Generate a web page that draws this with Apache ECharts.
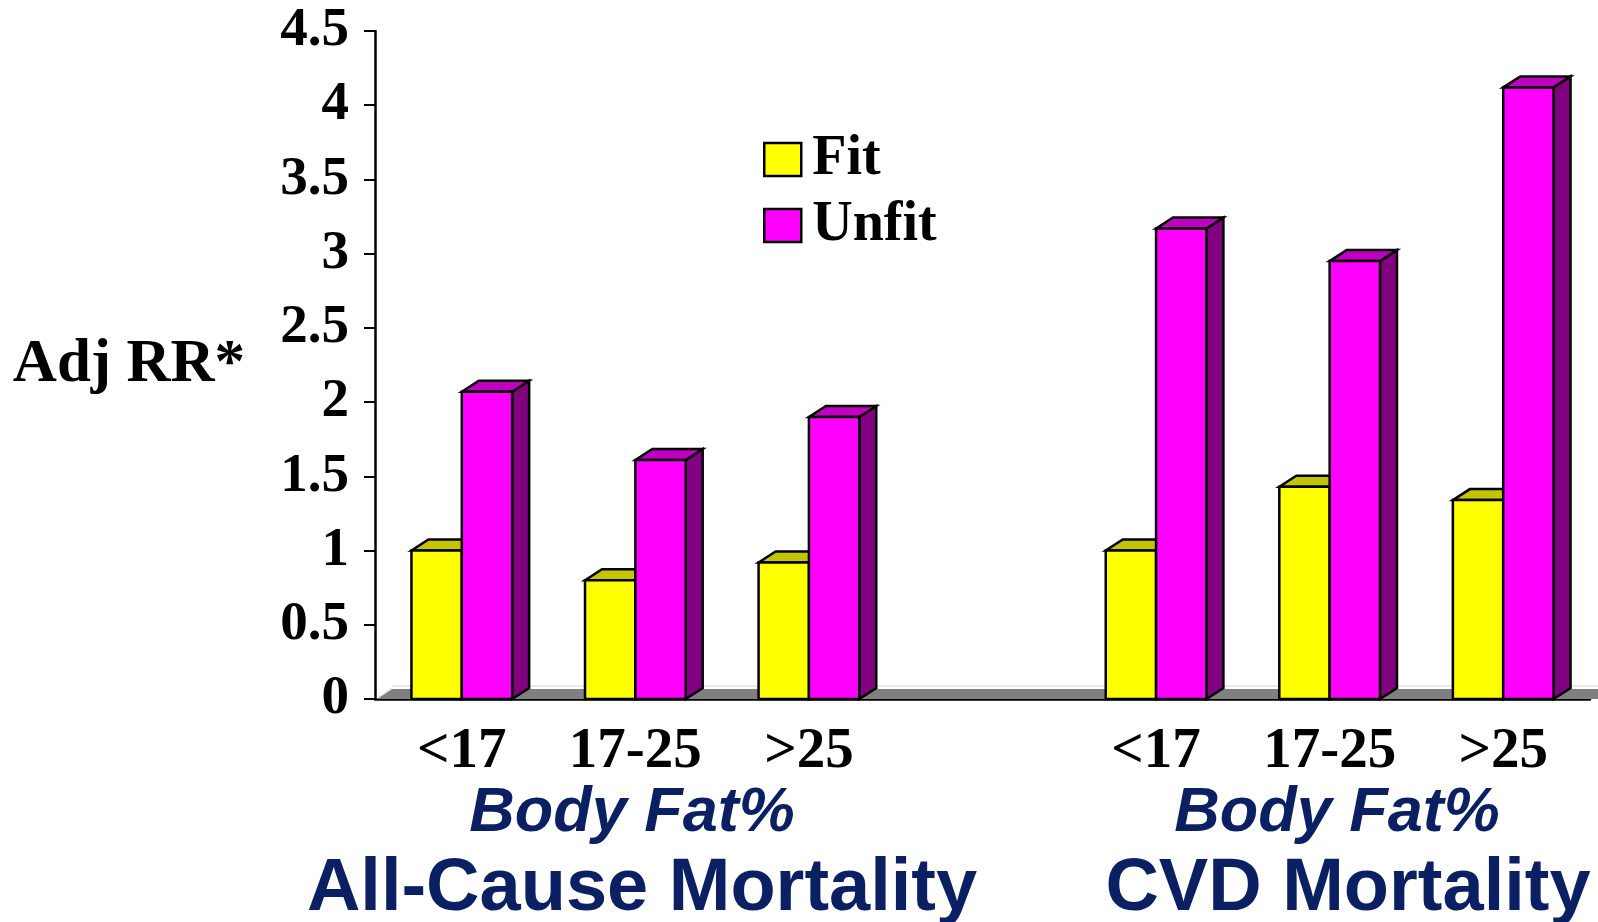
<!DOCTYPE html>
<html>
<head>
<meta charset="utf-8">
<script src="https://cdn.jsdelivr.net/npm/echarts@6/dist/echarts.min.js"></script>
<style>
  html, body { margin: 0; padding: 0; background: #ffffff; }
  #chart { width: 1598px; height: 922px; }
</style>
</head>
<body>
<div id="chart"></div>
<script>
// Adjusted relative risk by body-fat group, fit vs unfit men
const categories = ['<17', '17-25', '>25', '', '<17', '17-25', '>25'];
const fitValues = [1.0, 0.8, 0.92, null, 1.0, 1.43, 1.34];
const unfitValues = [2.07, 1.61, 1.9, null, 3.17, 2.95, 4.12];
const seriesNames = ['Fit', 'Unfit'];
const yMin = 0, yMax = 4.5, yStep = 0.5;
const yAxisTitle = 'Adj RR*';
const groupSubtitle = 'Body Fat%';
const groupTitles = ['All-Cause Mortality', 'CVD Mortality'];

const SERIF = '"Liberation Serif", "Times New Roman", serif';
const SANS = '"Liberation Sans", Arial, sans-serif';
const NAVY = '#0b1f63';
const DX = 17, DY = 11;          // depth offset of the 3-D columns
const BAR_FRAC = 0.29;           // column width as a share of a category

const palette = [
  { front: '#ffff00', top: '#c4c400', side: '#808000' },
  { front: '#ff00ff', top: '#c000c0', side: '#800080' }
];

function toData(values) {
  const out = [];
  values.forEach((v, i) => { if (v !== null) out.push([i, v]); });
  return out;
}

function bar3d(idx) {
  const col = palette[idx];
  return function (params, api) {
    const i = api.value(0), v = api.value(1);
    const c = api.coord([i, v]);
    const b = api.coord([i, 0]);
    const W = api.size([1, 0])[0];
    const bw = W * BAR_FRAC;
    const x = idx === 0 ? c[0] - bw : c[0];
    const yT = c[1], yB = b[1];
    const line = { stroke: '#000', lineWidth: 2.5, lineJoin: 'miter' };
    return {
      type: 'group',
      children: [
        { type: 'polygon',
          shape: { points: [[x + bw, yT], [x + bw + DX, yT - DY], [x + bw + DX, yB - DY], [x + bw, yB]] },
          style: Object.assign({ fill: col.side }, line) },
        { type: 'polygon',
          shape: { points: [[x, yT], [x + DX, yT - DY], [x + bw + DX, yT - DY], [x + bw, yT]] },
          style: Object.assign({ fill: col.top }, line) },
        { type: 'rect',
          shape: { x: x, y: yT, width: bw, height: yB - yT },
          style: Object.assign({ fill: col.front }, line) }
      ]
    };
  };
}

// grey floor under the columns
function floor(params, api) {
  const cs = params.coordSys;
  const x0 = cs.x, x1 = cs.x + cs.width, y0 = cs.y + cs.height;
  const fx = DX - 2, fy = DY - 1;
  return {
    type: 'group',
    children: [
      { type: 'polygon',
        shape: { points: [[x0 + 2, y0], [x0 + 2 + fx, y0 - fy], [x1 + fx + 20, y0 - fy], [x1 + 20, y0]] },
        style: { fill: '#808080' } },
      { type: 'line',
        shape: { x1: x0 + 2 + fx, y1: y0 - fy - 3, x2: x1 + fx + 20, y2: y0 - fy - 3 },
        style: { stroke: '#e4e4e4', lineWidth: 1.5 } },
      { type: 'line',
        shape: { x1: x0 + 2, y1: y0 - 1, x2: x0 + 2 + fx, y2: y0 - fy - 1 },
        style: { stroke: '#e8e8e8', lineWidth: 1.5 } }
    ]
  };
}

const chart = echarts.init(document.getElementById('chart'), null, { renderer: 'canvas' });

chart.setOption({
  backgroundColor: '#ffffff',
  animation: false,
  grid: { left: 375, right: 8, top: 31, bottom: 223, containLabel: false },
  legend: {
    orient: 'vertical',
    left: 758, top: 126,
    itemWidth: 37, itemHeight: 33, itemGap: 9,
    icon: 'rect',
    selectedMode: false,
    textStyle: { fontFamily: SERIF, fontWeight: 'bold', fontSize: 56, lineHeight: 57, color: '#000', padding: [0, 0, 0, 6] },
    data: [
      { name: seriesNames[0], itemStyle: { color: palette[0].front, borderColor: '#000', borderWidth: 2.5 } },
      { name: seriesNames[1], itemStyle: { color: palette[1].front, borderColor: '#000', borderWidth: 2.5 } }
    ]
  },
  xAxis: {
    type: 'category',
    data: categories,
    boundaryGap: true,
    axisLine: { lineStyle: { color: '#000', width: 2.5 } },
    axisTick: { length: 11, lineStyle: { color: '#000', width: 2 } },
    axisLabel: { margin: 25, color: '#000', fontFamily: SERIF, fontWeight: 'bold', fontSize: 57, interval: 0 },
    splitLine: { show: false }
  },
  yAxis: {
    type: 'value',
    min: yMin, max: yMax, interval: yStep,
    name: yAxisTitle,
    nameLocation: 'middle',
    nameRotate: 0,
    nameGap: 130,
    nameTextStyle: { color: '#000', fontFamily: SERIF, fontWeight: 'bold', fontSize: 61 },
    axisLine: { show: true, lineStyle: { color: '#000', width: 2.5 } },
    axisTick: { show: true, length: 11, lineStyle: { color: '#000', width: 2 } },
    axisLabel: { margin: 26, color: '#000', fontFamily: SERIF, fontWeight: 'bold', fontSize: 55 },
    splitLine: { show: false }
  },
  series: [
    { type: 'custom', name: 'floor', data: [[0, 0]], renderItem: floor, z: 1, silent: true },
    { type: 'custom', name: seriesNames[0], data: toData(fitValues), encode: { x: 0, y: 1 },
      renderItem: bar3d(0), z: 2, itemStyle: { color: palette[0].front } },
    { type: 'custom', name: seriesNames[1], data: toData(unfitValues), encode: { x: 0, y: 1 },
      renderItem: bar3d(1), z: 3, itemStyle: { color: palette[1].front } }
  ],
  graphic: [
    { type: 'text', x: 632, y: 814, style: { text: groupSubtitle, align: 'center', verticalAlign: 'middle',
      font: 'italic bold 63px ' + SANS, fill: NAVY } },
    { type: 'text', x: 1337, y: 814, style: { text: groupSubtitle, align: 'center', verticalAlign: 'middle',
      font: 'italic bold 63px ' + SANS, fill: NAVY } },
    { type: 'text', x: 642, y: 890, style: { text: groupTitles[0], align: 'center', verticalAlign: 'middle',
      font: 'bold 74px ' + SANS, fill: NAVY } },
    { type: 'text', x: 1348, y: 890, style: { text: groupTitles[1], align: 'center', verticalAlign: 'middle',
      font: 'bold 74px ' + SANS, fill: NAVY } }
  ]
});
</script>
</body>
</html>
